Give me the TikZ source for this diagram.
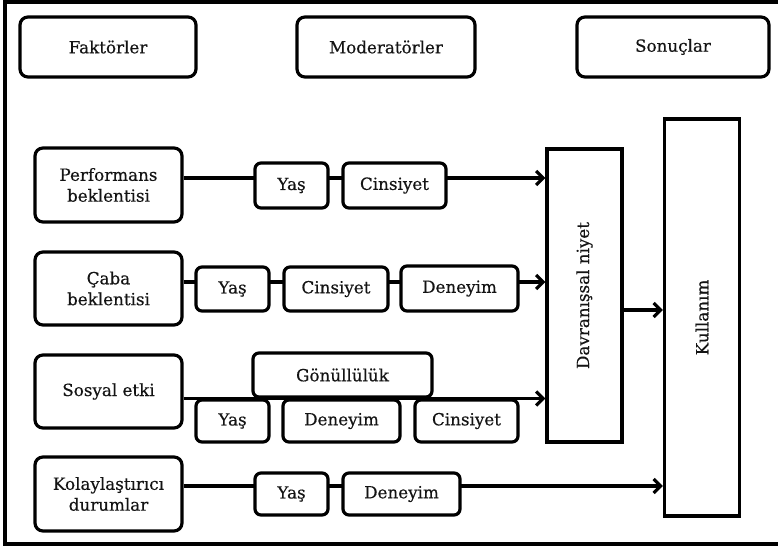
\documentclass[tikz,border=0pt]{standalone}
\usepackage{fontspec}
\setmainfont{DejaVu Serif}
\newfontfamily\dfont[FakeBold=0.4]{DejaVu Serif}
\usetikzlibrary{arrows.meta,backgrounds}
\begin{document}
\begin{tikzpicture}[x=1bp,y=-1bp,
  every node/.style={font=\dfont\fontsize{16.8}{21}\selectfont, text=black!92, align=center, inner sep=0pt},
  rbox/.style={draw, line width=3.2bp, rounded corners=8bp, fill=white},
  sbox/.style={draw, line width=3.2bp, rounded corners=6bp, fill=white},
  bigbox/.style={draw, line width=3.2bp, fill=white},
  arr/.style={line width=3.2bp, -{Straight Barb[length=7bp,width=14bp,line width=3.2bp]}}]
\useasboundingbox (0,0) rectangle (778,547);
\draw[line width=3.2bp] (5,2) rectangle (800,544);
% headers
\node[rbox, minimum width=176bp, minimum height=60bp] (hf) at (108,47) {Faktörler};
\node[rbox, minimum width=178bp, minimum height=60bp] (hm) at (386,47) {Moderatörler};
\node[rbox, minimum width=192bp, minimum height=60bp] (hs) at (673,47) {Sonuçlar};
% factors
\node[rbox, minimum width=147bp, minimum height=74bp] (perf) at (108.5,185) {Performans\\beklentisi};
\node[rbox, minimum width=147bp, minimum height=73bp] (caba) at (108.5,288.5) {Çaba\\beklentisi};
\node[rbox, minimum width=147bp, minimum height=73bp] (sos) at (108.5,391.5) {Sosyal etki};
\node[rbox, minimum width=147bp, minimum height=74bp] (kol) at (108.5,494) {Kolaylaştırıcı\\durumlar};
% results
\node[bigbox, minimum width=75bp, minimum height=293bp] (dn) at (584.5,295.5) {};
\node[rotate=90] at (dn.center) {Davranışsal niyet};
\node[bigbox, minimum width=75bp, minimum height=397bp] (ku) at (702,317.5) {};
\node[rotate=90] at (ku.center) {Kullanım};
% row 1
\node[sbox, minimum width=73bp, minimum height=45bp] (ya1) at (291.5,185.5) {Yaş};
\node[sbox, minimum width=103bp, minimum height=45bp] (ci1) at (394.5,185.5) {Cinsiyet};
% row 2
\node[sbox, minimum width=73bp, minimum height=44bp] (ya2) at (232.5,289) {Yaş};
\node[sbox, minimum width=104bp, minimum height=44bp] (ci2) at (336,289) {Cinsiyet};
\node[sbox, minimum width=117bp, minimum height=45bp] (de2) at (459.5,288.5) {Deneyim};
% row 3
\node[sbox, minimum width=179bp, minimum height=44bp] (go3) at (342.5,375) {Gönüllülük};
\node[sbox, minimum width=73bp, minimum height=42bp] (ya3) at (232.5,421) {Yaş};
\node[sbox, minimum width=117bp, minimum height=42bp] (de3) at (341.5,421) {Deneyim};
\node[sbox, minimum width=103bp, minimum height=42bp] (ci3) at (466.5,421) {Cinsiyet};
% row 4
\node[sbox, minimum width=73bp, minimum height=42bp] (ya4) at (291.5,494) {Yaş};
\node[sbox, minimum width=117bp, minimum height=42bp] (de4) at (401.5,494) {Deneyim};
% connector heights
\coordinate (l1) at (0,178);
\coordinate (l2) at (0,282);
\coordinate (l3) at (0,398.5);
\coordinate (l4) at (0,486);
\coordinate (l5) at (0,310);
\begin{pgfonlayer}{background}
\draw[arr] (perf.east |- l1) -- (dn.west |- l1);
\draw[arr] (caba.east |- l2) -- (dn.west |- l2);
\draw[arr] (sos.east |- l3) -- (dn.west |- l3);
\draw[arr] (kol.east |- l4) -- (ku.west |- l4);
\draw[arr] (dn.east |- l5) -- (ku.west |- l5);
\end{pgfonlayer}
\end{tikzpicture}
\end{document}
